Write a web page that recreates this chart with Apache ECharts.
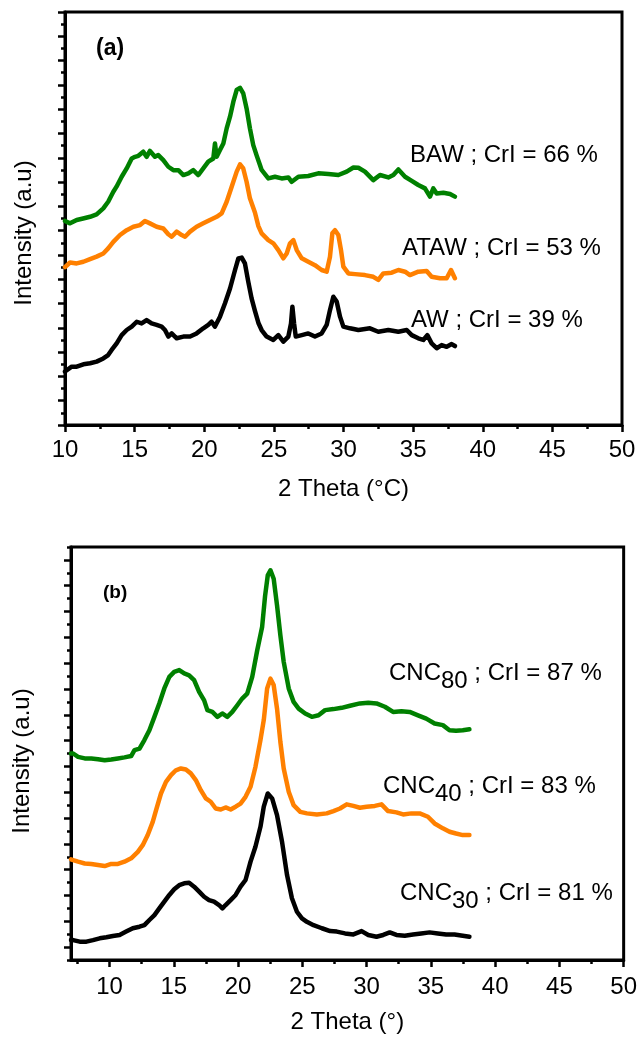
<!DOCTYPE html>
<html><head><meta charset="utf-8">
<script src="https://cdn.jsdelivr.net/npm/echarts@6/dist/echarts.min.js"></script>
<style>html,body{margin:0;padding:0;background:#fff}#c{width:640px;height:1037px}</style>
</head><body><div id="c"></div>
<script>
const FONT = '"Liberation Sans", Arial, Helvetica, sans-serif';

// tick values
const xTicksA = [10, 15, 20, 25, 30, 35, 40, 45, 50];
const xTicksB = [10, 15, 20, 25, 30, 35, 40, 45, 50];
const xMinorB = [7.5, 12.5, 17.5, 22.5, 27.5, 32.5, 37.5, 42.5, 47.5];
const yMajorB = [0.5, 1.5, 2.5, 3.5, 4.5, 5.5, 6.5, 7.5, 8.5, 9.5, 10.5, 11.5, 12.5, 13.5, 14.5, 15.5];
const yMinorB = [0, 1, 2, 3, 4, 5, 6, 7, 8, 9, 10, 11, 12, 13, 14, 15, 16];

// text
const titleXA = '2 Theta (°C)';
const titleXB = '2 Theta (°)';
const titleY = 'Intensity (a.u)';
const annA = ['BAW ; CrI = 66 %', 'ATAW ; CrI = 53 %', 'AW ; CrI = 39 %'];
const annB = [['CNC', '80', ' ; CrI = 87 %'], ['CNC', '40', ' ; CrI = 83 %'], ['CNC', '30', ' ; CrI = 81 %']];

// panel (a) series  [2theta, intensity (offset, a.u.)]
const BAW = [[10.0,8.4],[10.1,8.44],[10.36,8.30],[10.84,8.44],[11.3,8.5],[11.8,8.57],[12.27,8.67],[12.75,8.92],[13.1,9.19],[13.47,9.6],[13.7,9.81],[14.07,10.22],[14.43,10.56],[14.79,10.97],[15.03,11.04],[15.27,11.08],[15.62,11.25],[15.86,11.04],[16.1,11.28],[16.46,11.04],[16.7,11.11],[17.06,10.9],[17.42,10.63],[17.78,10.49],[18.14,10.49],[18.5,10.29],[18.86,10.36],[19.21,10.49],[19.57,10.29],[19.93,10.56],[20.29,10.84],[20.65,10.97],[20.77,11.59],[20.89,11.04],[21.13,11.32],[21.37,11.59],[21.61,12.21],[21.85,12.69],[22.09,13.31],[22.33,13.79],[22.57,13.88],[22.8,13.65],[23.04,13.03],[23.28,12.21],[23.52,11.52],[23.76,11.1],[24.0,10.7],[24.12,10.5],[24.6,10.15],[25.08,10.22],[25.56,10.15],[26.04,10.19],[26.28,10.01],[26.76,10.22],[27.47,10.25],[28.19,10.36],[28.91,10.33],[29.63,10.29],[30.23,10.43],[30.71,10.6],[31.07,10.59],[31.54,10.43],[32.14,10.08],[32.62,10.29],[33.22,10.19],[33.58,10.29],[33.94,10.52],[34.42,10.22],[34.9,10.05],[35.37,9.88],[35.85,9.74],[36.21,9.4],[36.45,9.74],[36.69,9.53],[37.17,9.56],[37.65,9.51],[38.0,9.4]];
const ATAW = [[10.0,6.5],[10.12,6.52],[10.36,6.69],[10.84,6.65],[11.32,6.72],[11.8,6.83],[12.27,6.93],[12.75,7.06],[13.1,7.27],[13.47,7.54],[13.95,7.82],[14.43,8.02],[14.91,8.16],[15.39,8.23],[15.74,8.4],[16.1,8.3],[16.58,8.16],[17.06,8.09],[17.42,7.85],[17.66,7.75],[18.02,7.96],[18.38,7.82],[18.62,7.75],[18.98,7.96],[19.45,8.16],[19.93,8.3],[20.41,8.44],[20.89,8.57],[21.25,8.71],[21.61,9.19],[21.97,9.81],[22.33,10.43],[22.57,10.73],[22.8,10.56],[23.04,10.01],[23.28,9.33],[23.64,8.75],[23.88,8.2],[24.12,7.89],[24.6,7.61],[24.96,7.48],[25.32,7.2],[25.68,6.86],[25.92,7.06],[26.16,7.48],[26.4,7.61],[26.64,7.2],[27.0,6.86],[27.47,6.72],[27.95,6.58],[28.43,6.38],[28.79,6.31],[29.03,6.93],[29.2,7.89],[29.39,8.02],[29.63,7.82],[29.82,7.2],[29.99,6.52],[30.35,6.24],[30.83,6.21],[31.54,6.17],[32.14,6.1],[32.5,5.97],[32.86,6.24],[33.46,6.27],[33.94,6.38],[34.42,6.31],[34.77,6.17],[35.37,6.31],[35.97,6.34],[36.33,6.1],[36.93,6.04],[37.41,6.04],[37.72,6.38],[38.0,6.04]];
const AW = [[10.0,2.2],[10.12,2.26],[10.48,2.4],[10.84,2.4],[11.32,2.5],[11.8,2.54],[12.27,2.61],[12.75,2.74],[13.1,2.88],[13.35,3.09],[13.71,3.36],[14.07,3.7],[14.43,3.91],[14.79,4.05],[15.15,4.25],[15.5,4.18],[15.86,4.32],[16.22,4.18],[16.58,4.12],[16.94,4.05],[17.18,3.91],[17.42,3.64],[17.66,3.77],[18.02,3.57],[18.5,3.64],[18.98,3.64],[19.45,3.77],[19.93,3.98],[20.29,4.12],[20.53,4.25],[20.77,4.05],[21.13,4.46],[21.49,5.01],[21.85,5.62],[22.21,6.38],[22.45,6.86],[22.69,6.89],[22.92,6.65],[23.16,5.9],[23.4,5.21],[23.64,4.7],[23.89,4.2],[24.12,3.91],[24.48,3.64],[24.96,3.5],[25.32,3.7],[25.68,3.43],[26.04,3.64],[26.23,4.18],[26.33,4.87],[26.45,4.18],[26.57,3.64],[27.0,3.7],[27.47,3.77],[27.95,3.64],[28.43,3.77],[28.79,4.12],[29.03,4.73],[29.27,5.28],[29.51,5.08],[29.75,4.46],[29.99,4.05],[30.47,3.98],[31.07,3.91],[31.9,3.98],[32.5,3.84],[33.22,3.91],[33.94,3.84],[34.54,3.91],[34.9,3.7],[35.37,3.57],[35.73,3.5],[36.02,3.7],[36.33,3.36],[36.69,3.16],[37.05,3.29],[37.41,3.22],[37.77,3.33],[38.0,3.25]];

// panel (b) series
const CNC80 = [[7.0,8.0],[7.17,8.0],[7.55,7.87],[8.07,7.81],[8.58,7.81],[9.1,7.78],[9.62,7.74],[10.13,7.77],[10.65,7.81],[11.16,7.85],[11.68,7.9],[11.94,8.13],[12.33,8.19],[12.71,8.52],[13.1,8.9],[13.49,9.42],[13.87,9.94],[14.26,10.52],[14.65,10.97],[15.03,11.16],[15.42,11.23],[15.81,11.1],[16.19,11.03],[16.58,10.84],[16.97,10.39],[17.36,10.06],[17.61,9.68],[18.0,9.61],[18.39,9.42],[18.77,9.55],[19.16,9.42],[19.55,9.61],[19.94,9.87],[20.32,10.13],[20.71,10.32],[21.1,10.97],[21.49,12.0],[21.87,12.9],[22.1,14.1],[22.31,14.9],[22.52,15.1],[22.77,14.77],[23.03,13.74],[23.29,12.58],[23.55,11.55],[23.94,10.52],[24.32,10.0],[24.71,9.74],[25.22,9.55],[25.74,9.42],[26.26,9.48],[26.77,9.68],[27.42,9.72],[28.06,9.77],[28.71,9.85],[29.48,9.94],[30.13,9.97],[30.77,9.94],[31.42,9.81],[32.06,9.61],[32.71,9.64],[33.35,9.61],[34.0,9.48],[34.64,9.35],[35.29,9.16],[35.93,9.1],[36.45,8.9],[36.96,8.88],[37.48,8.9],[38.0,8.94]];
const CNC40 = [[7.0,3.9],[7.17,3.87],[7.55,3.81],[8.07,3.74],[8.58,3.72],[9.1,3.68],[9.62,3.64],[10.13,3.72],[10.65,3.72],[11.16,3.81],[11.68,3.94],[12.2,4.19],[12.58,4.45],[12.97,4.84],[13.36,5.35],[13.62,5.81],[14.0,6.45],[14.39,6.9],[14.78,7.16],[15.16,7.35],[15.55,7.42],[15.94,7.38],[16.32,7.23],[16.71,6.97],[17.1,6.58],[17.49,6.26],[17.87,6.13],[18.26,5.87],[18.65,5.83],[19.03,5.91],[19.42,5.83],[19.81,5.94],[20.19,6.06],[20.58,6.32],[20.97,6.71],[21.35,7.48],[21.74,8.52],[22.0,9.3],[22.26,10.52],[22.52,10.9],[22.77,10.65],[23.03,9.74],[23.29,8.45],[23.55,7.42],[23.94,6.52],[24.32,6.0],[24.84,5.74],[25.35,5.68],[26.13,5.64],[26.9,5.68],[27.42,5.77],[27.93,5.87],[28.45,6.03],[28.97,5.97],[29.48,5.9],[30.0,5.94],[30.64,5.97],[31.16,6.03],[31.67,5.77],[32.32,5.72],[32.84,5.64],[33.48,5.68],[34.13,5.68],[34.77,5.55],[35.29,5.29],[35.93,5.1],[36.45,4.97],[36.96,4.9],[37.48,4.84],[38.0,4.84]];
const CNC30 = [[7.0,0.77],[7.17,0.77],[7.68,0.71],[8.2,0.71],[8.71,0.77],[9.23,0.84],[9.75,0.88],[10.26,0.93],[10.78,0.97],[11.29,1.1],[11.81,1.23],[12.33,1.29],[12.71,1.35],[13.1,1.55],[13.49,1.74],[13.87,2.0],[14.26,2.26],[14.65,2.52],[15.03,2.74],[15.42,2.9],[15.81,2.97],[16.19,2.99],[16.58,2.84],[16.97,2.65],[17.36,2.45],[17.74,2.32],[18.13,2.26],[18.52,2.13],[18.78,2.0],[19.03,2.13],[19.42,2.32],[19.81,2.52],[20.19,2.84],[20.58,3.1],[20.97,3.81],[21.35,4.39],[21.74,5.16],[22.0,5.94],[22.31,6.45],[22.65,6.26],[23.03,5.61],[23.42,4.58],[23.81,3.29],[24.19,2.39],[24.58,1.87],[24.97,1.61],[25.35,1.48],[25.87,1.35],[26.52,1.23],[27.16,1.12],[27.68,1.1],[28.32,1.03],[28.97,0.99],[29.61,1.12],[30.13,0.97],[30.77,0.9],[31.29,0.97],[31.8,1.07],[32.32,0.97],[32.97,0.94],[33.61,0.99],[34.25,1.03],[34.9,1.07],[35.54,1.03],[36.19,0.99],[36.84,0.99],[37.48,0.94],[38.0,0.9]];

const GREEN = '#008000', ORANGE = '#ff8000', BLACK = '#000000';
const FS = 24;
const axisLine = { show: true, onZero: false, lineStyle: { color: '#000', width: 3 } };
const tickStyle = { color: '#000', width: 2.5 };
const labelStyle = { color: '#000', fontSize: FS, fontFamily: FONT };
const nameStyle = { color: '#000', fontSize: FS, fontFamily: FONT };

function line(data, color, xi, yi) {
  return { type: 'line', data: data, xAxisIndex: xi, yAxisIndex: yi, showSymbol: false, symbol: 'none',
    lineStyle: { color: color, width: 4.5, join: 'round', cap: 'round' }, itemStyle: { color: color }, z: 3, silent: true };
}

const chart = echarts.init(document.getElementById('c'), null, { renderer: 'canvas' });
chart.setOption({
  animation: false,
  backgroundColor: '#fff',
  grid: [
    { left: 65, top: 12, width: 557, height: 413, show: true, borderColor: '#000', borderWidth: 3, backgroundColor: 'transparent' },
    { left: 71, top: 547, width: 556, height: 413, show: true, borderColor: '#000', borderWidth: 3, backgroundColor: 'transparent' }
  ],
  xAxis: [
    { gridIndex: 0, type: 'value', min: 10, max: 50, interval: 5, axisLine: axisLine,
      axisTick: { show: true, length: 7, lineStyle: tickStyle },
      minorTick: { show: true, splitNumber: 2, length: 4, lineStyle: tickStyle },
      axisLabel: Object.assign({ margin: 13, customValues: xTicksA }, labelStyle),
      splitLine: { show: false }, minorSplitLine: { show: false },
      name: titleXA, nameLocation: 'middle', nameGap: 52, nameTextStyle: nameStyle },
    { gridIndex: 1, type: 'value', min: 7, max: 50, position: 'bottom', axisLine: axisLine,
      axisTick: { show: true, length: 7, lineStyle: tickStyle, customValues: xTicksB },
      axisLabel: Object.assign({ margin: 15, customValues: xTicksB }, labelStyle),
      splitLine: { show: false },
      name: titleXB, nameLocation: 'middle', nameGap: 50, nameTextStyle: nameStyle },
    { gridIndex: 1, type: 'value', min: 7, max: 50, position: 'bottom', offset: 0,
      axisLine: { show: false }, axisLabel: { show: false }, splitLine: { show: false },
      axisTick: { show: true, length: 4, lineStyle: tickStyle, customValues: xMinorB } }
  ],
  yAxis: [
    { gridIndex: 0, type: 'value', min: 0, max: 17, interval: 1, axisLine: axisLine,
      axisTick: { show: true, length: 7, lineStyle: tickStyle },
      minorTick: { show: true, splitNumber: 2, length: 4, lineStyle: tickStyle },
      axisLabel: { show: false }, splitLine: { show: false }, minorSplitLine: { show: false } },
    { gridIndex: 1, type: 'value', min: 0, max: 16, position: 'left', axisLine: axisLine,
      axisTick: { show: true, length: 7, lineStyle: tickStyle, customValues: yMajorB },
      axisLabel: { show: false }, splitLine: { show: false } },
    { gridIndex: 1, type: 'value', min: 0, max: 16, position: 'left', offset: 0,
      axisLine: { show: false }, axisLabel: { show: false }, splitLine: { show: false },
      axisTick: { show: true, length: 4, lineStyle: tickStyle, customValues: yMinorB } }
  ],
  series: [
    line(BAW, GREEN, 0, 0), line(ATAW, ORANGE, 0, 0), line(AW, BLACK, 0, 0),
    line(CNC80, GREEN, 1, 1), line(CNC40, ORANGE, 1, 1), line(CNC30, BLACK, 1, 1)
  ],
  graphic: [
    { type: 'text', x: 24, y: 233, rotation: Math.PI / 2, style: { text: titleY, fill: '#000', font: FS + 'px ' + FONT, align: 'center', verticalAlign: 'middle' } },
    { type: 'text', x: 22, y: 761, rotation: Math.PI / 2, style: { text: titleY, fill: '#000', font: FS + 'px ' + FONT, align: 'center', verticalAlign: 'middle' } },
    { type: 'text', x: 96, y: 49, style: { text: '(a)', fill: '#000', font: 'bold 23px ' + FONT, align: 'left', verticalAlign: 'middle' } },
    { type: 'text', x: 103, y: 593, style: { text: '(b)', fill: '#000', font: 'bold 19px ' + FONT, align: 'left', verticalAlign: 'middle' } },
    { type: 'text', x: 410, y: 155, style: { text: annA[0], fill: '#000', font: FS + 'px ' + FONT, align: 'left', verticalAlign: 'middle' } },
    { type: 'text', x: 402, y: 248, style: { text: annA[1], fill: '#000', font: FS + 'px ' + FONT, align: 'left', verticalAlign: 'middle' } },
    { type: 'text', x: 411, y: 320, style: { text: annA[2], fill: '#000', font: FS + 'px ' + FONT, align: 'left', verticalAlign: 'middle' } }
  ].concat(annB.map(function (a, i) {
    const pos = [[389, 673], [383, 786], [400, 893]][i];
    return { type: 'text', x: pos[0], y: pos[1], style: {
      text: '{m|' + a[0] + '}{s|' + a[1] + '}{m|' + a[2] + '}',
      align: 'left', verticalAlign: 'middle',
      rich: {
        m: { fontSize: FS, fontFamily: FONT, fill: '#000', color: '#000' },
        s: { fontSize: FS, fontFamily: FONT, fill: '#000', color: '#000', padding: [16, 0, 0, 0] }
      } } };
  }))
});
</script></body></html>
